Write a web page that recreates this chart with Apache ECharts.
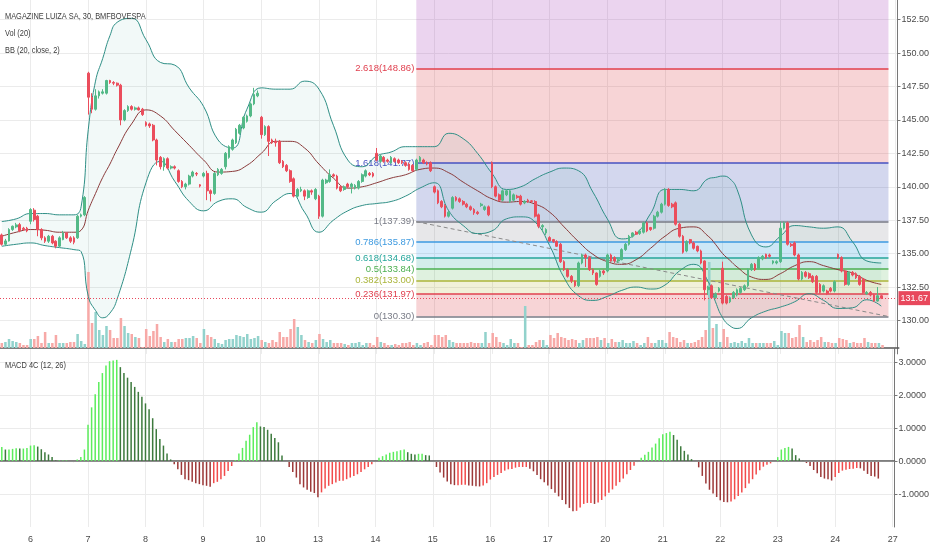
<!DOCTYPE html>
<html>
<head>
<meta charset="utf-8">
<title>MAGAZINE LUIZA SA, 30, BMFBOVESPA</title>
<script src="https://cdn.jsdelivr.net/npm/echarts@6.0.0/dist/echarts.min.js"></script>
<style>html,body{margin:0;padding:0;background:#fff;}</style>
</head>
<body>
<div id="main" style="width:932px;height:550px;"></div>
<script type="text/javascript">
// day labels of the time axis, 16 half-hour bars per session
var dayLabels = ['3', '6', '7', '8', '9', '10', '13', '14', '15', '16', '17', '20', '21', '22', '23', '24', '27'];
var barsPerDay = 16;
var firstDaySkip = 8;   // bars of the first session left of the chart edge
var lastDaySlots = 1;

// [open, close, low, high] per bar
var ohlc = [
    // 3
    [136.4,135.7,135.6,136.5],[135.7,135.95,135.6,136.1],[135.95,136.8,135.9,136.9],[136.8,137.05,136.7,137.1],[137.0,137.15,136.9,137.3],[137.17,136.7,136.6,137.3],[136.9,136.8,136.7,137.0],[136.9,136.7,136.6,137.0],
    // 6
    [137.42,138.3,137.2,138.4],[138.25,137.55,137.4,138.4],[137.8,136.8,136.3,137.9],[136.8,136.18,136.0,136.9],[136.18,135.93,135.8,136.3],[135.93,136.3,135.8,136.4],[136.3,135.8,135.7,136.4],[135.93,135.56,135.4,136.0],
    [135.56,136.18,135.5,136.3],[136.05,136.55,136.0,136.7],[136.55,136.18,136.1,136.6],[136.18,135.93,135.8,136.3],[136.18,135.85,135.7,136.3],[136.18,137.8,136.1,137.9],[137.8,137.9,137.7,138.0],[137.9,139.2,137.8,139.3],
    // 7
    [148.5,146.7,145.4,148.6],[146.7,145.8,145.5,147.0],[145.8,146.8,145.7,147.3],[146.8,147.1,146.6,147.2],[147.0,147.1,146.9,147.3],[147.0,147.95,146.9,148.0],[147.95,147.8,147.7,148.0],[147.8,147.75,147.6,147.9],
    [147.75,147.6,147.5,147.8],[147.6,145.0,144.6,147.7],[145.0,145.7,144.9,145.8],[145.7,146.0,145.6,146.1],[146.0,145.8,145.7,146.1],[145.8,145.9,145.7,146.0],[145.9,145.75,145.7,146.0],[145.8,145.4,145.3,145.9],
    // 8
    [144.8,144.6,144.5,144.9],[144.7,144.55,144.4,144.8],[144.6,143.5,143.4,144.7],[143.5,142.0,141.6,143.6],[142.2,141.5,141.3,142.3],[141.5,142.1,141.2,142.2],[142.1,141.4,141.3,142.2],[141.4,141.5,141.3,141.6],
    [141.5,141.4,141.3,141.6],[141.2,140.4,140.3,141.3],[140.4,140.0,139.9,140.5],[140.0,140.2,139.8,140.3],[140.2,140.8,140.1,140.9],[140.8,141.1,140.7,141.2],[141.0,140.95,140.8,141.1],[140.15,140.05,139.95,140.2],
    // 9
    [140.8,141.0,140.7,141.1],[141.0,139.7,139.0,141.2],[139.7,139.5,138.9,139.8],[139.5,141.0,139.4,141.1],[140.9,141.3,140.8,141.4],[141.0,141.3,140.9,141.4],[141.5,142.5,141.3,142.6],[142.2,143.0,142.1,143.1],
    [142.8,143.5,142.7,143.6],[143.3,144.3,143.2,144.4],[144.0,144.6,143.9,144.7],[144.4,145.2,144.3,145.3],[144.9,145.3,144.8,145.4],[145.3,146.2,145.2,146.3],[146.2,146.9,146.1,147.4],[146.8,147.0,146.7,147.2],
    // 10
    [145.2,143.9,143.6,145.3],[143.9,144.5,143.8,144.6],[144.5,143.4,142.3,144.6],[143.5,143.3,143.2,143.6],[143.4,143.3,143.0,143.6],[143.4,141.8,141.7,143.5],[141.9,141.5,141.4,142.0],[141.6,141.2,141.1,141.7],
    [141.2,140.4,140.3,141.3],[140.6,139.3,139.2,140.7],[139.3,139.8,139.2,139.9],[139.7,139.8,139.6,140.0],[139.7,139.3,139.0,139.8],[139.2,139.7,139.1,139.8],[139.7,139.6,139.4,139.8],[139.1,139.8,139.0,139.9],
    // 13
    [139.3,137.8,137.6,139.4],[137.8,140.5,137.7,140.6],[140.3,140.5,140.2,140.6],[140.4,140.9,140.3,141.3],[140.9,140.8,140.7,141.0],[140.8,139.9,139.8,140.9],[140.0,139.7,139.6,140.1],[139.8,140.0,139.7,140.1],
    [140.2,140.0,139.9,140.3],[140.0,140.2,139.5,140.3],[139.9,140.1,139.8,140.2],[139.9,140.4,139.8,140.5],[140.4,140.9,140.3,141.0],[140.8,141.2,140.7,141.3],[141.0,140.9,140.8,141.1],[141.0,140.8,140.7,141.1],
    // 14
    [142.5,142.0,141.9,142.9],[141.9,142.3,141.8,142.4],[142.2,141.9,141.8,142.3],[142.0,141.9,141.8,142.1],[141.8,142.2,141.7,142.3],[142.1,141.9,141.8,142.2],[142.0,141.8,141.7,142.1],[141.9,141.8,141.7,142.0],
    [141.8,141.6,141.5,141.9],[141.7,141.3,141.2,141.8],[141.6,141.2,141.1,141.7],[141.3,142.0,141.2,142.1],[141.9,142.2,141.8,142.3],[142.0,141.8,141.7,142.1],[141.8,141.7,141.6,141.9],[141.8,141.2,141.1,141.9],
    // 15
    [140.0,139.6,139.5,140.1],[139.7,138.8,138.7,139.8],[138.9,138.5,138.4,139.0],[138.6,137.8,137.7,138.7],[137.8,138.1,137.7,138.2],[138.4,139.2,138.3,139.3],[139.2,139.0,138.9,139.3],[139.1,138.9,138.8,139.2],
    [138.9,138.7,138.6,139.0],[138.7,138.5,138.4,138.8],[138.5,138.3,138.2,138.6],[138.3,138.05,137.9,138.4],[138.1,138.0,137.9,138.2],[138.6,138.7,138.5,138.8],[138.3,138.5,138.2,138.6],[138.5,137.9,137.8,138.6],
    // 16
    [141.8,140.0,139.9,141.9],[140.0,139.3,139.2,140.1],[139.4,139.0,138.9,139.5],[139.0,139.7,138.9,139.8],[139.4,139.7,139.3,139.8],[138.9,139.7,138.8,139.8],[139.0,139.4,138.9,139.5],[139.3,139.2,139.1,139.4],
    [139.3,138.7,138.6,139.4],[138.8,138.9,138.7,139.0],[139.0,138.9,138.8,139.1],[138.95,138.9,138.8,139.0],[138.9,137.8,137.7,139.0],[137.9,137.05,136.9,138.0],[137.0,137.1,136.6,137.2],[136.55,136.8,136.4,136.9],
    // 17
    [136.2,135.95,135.9,136.3],[136.05,135.9,135.8,136.1],[135.9,135.55,135.5,136.0],[135.7,134.4,134.3,135.8],[134.4,133.8,133.7,134.5],[133.8,133.3,133.2,133.9],[133.3,132.95,132.8,133.4],[132.95,132.6,132.5,133.0],
    [132.6,134.3,132.5,134.4],[134.3,134.9,134.2,135.0],[134.9,134.7,134.0,135.0],[134.7,133.8,133.7,134.8],[133.8,133.55,133.4,133.9],[133.55,132.7,132.6,133.6],[133.3,133.7,133.2,133.8],[133.7,133.55,133.4,133.8],
    // 20
    [133.7,134.9,133.6,135.0],[134.9,134.45,134.4,135.0],[134.7,134.45,134.3,134.8],[134.45,134.55,134.3,134.7],[134.55,135.3,134.5,135.4],[135.3,135.7,135.2,135.8],[135.7,136.3,135.6,136.4],[136.3,136.55,136.2,136.6],
    [136.6,136.45,136.4,136.7],[136.5,136.7,136.4,136.8],[136.6,137.3,136.5,137.4],[137.3,136.7,136.6,137.4],[136.95,136.8,136.7,137.0],[136.9,137.8,136.8,137.9],[137.8,138.1,137.7,138.2],[138.1,138.7,138.0,138.8],
    // 21
    [138.7,139.8,138.6,139.9],[139.8,138.6,138.5,139.9],[138.7,138.5,138.4,138.8],[138.8,137.2,137.1,138.9],[137.2,136.3,136.2,137.3],[136.3,135.1,135.0,136.4],[135.2,135.9,135.1,136.0],[136.05,135.8,135.7,136.1],
    [135.8,135.4,135.3,135.9],[135.55,135.2,135.1,135.6],[135.2,134.3,134.2,135.3],[134.45,132.3,131.5,134.5],[132.3,132.5,131.9,132.6],[132.6,131.7,131.6,132.7],[131.7,132.0,131.6,132.1],[132.2,132.4,132.1,132.5],
    // 22
    [133.9,131.3,131.2,134.4],[131.8,131.3,131.2,131.9],[131.4,131.7,131.3,131.8],[131.7,132.1,131.6,132.2],[131.9,132.3,131.8,132.4],[132.1,132.4,132.0,132.5],[132.3,132.6,132.2,132.7],[132.6,133.8,132.5,133.9],
    [133.8,134.2,133.7,134.3],[134.2,133.8,133.7,134.3],[133.9,134.7,133.8,134.8],[134.6,134.8,134.5,134.9],[134.95,134.7,134.6,135.0],[134.9,134.8,134.7,135.0],[134.3,134.45,134.2,134.5],[134.3,134.4,134.2,134.5],
    // 23
    [134.4,136.9,134.3,137.4],[136.9,137.3,136.8,137.4],[137.3,135.7,135.6,137.4],[135.7,135.6,135.5,135.8],[135.8,134.9,134.8,135.9],[134.9,133.1,133.0,135.0],[133.1,133.6,133.0,133.7],[133.6,133.3,133.2,133.7],
    [133.5,133.2,133.1,133.6],[133.3,132.9,132.8,133.4],[133.3,132.1,132.0,133.4],[132.7,132.1,132.0,132.8],[132.2,132.6,132.1,132.7],[132.2,132.0,131.9,132.3],[132.4,132.2,132.1,132.5],[132.2,132.9,132.1,133.0],
    // 24
    [134.95,134.7,134.6,135.0],[134.7,133.7,133.6,134.8],[133.7,132.7,132.6,133.8],[132.7,133.6,132.6,133.7],[133.6,133.4,133.3,133.7],[133.5,133.2,133.1,133.6],[133.3,132.7,132.6,133.4],[133.1,132.1,132.0,133.2],
    [132.0,132.1,131.9,132.2],[132.1,131.9,131.8,132.2],[131.9,131.45,131.4,132.0],[131.45,131.85,131.4,132.5],[131.85,131.67,131.6,131.9]
];

// volume per bar (thousand shares)
var volume = [
    5,6,9,7,6,5,3,3,
    9,9,12,5,16,5,5,13,5,5,5,6,6,14,7,4,
    76,25,36,18,13,22,18,10,10,30,22,15,14,11,10,1,
    19,12,17,24,11,6,9,6,6,9,9,10,10,12,10,5,
    19,13,11,9,5,4,8,9,9,13,12,11,14,9,10,12,
    8,6,5,8,6,16,11,11,19,29,21,13,8,6,5,8,
    14,9,6,8,5,5,5,4,3,5,5,6,3,5,5,3,
    11,6,5,3,3,4,3,5,5,6,3,5,3,5,6,3,
    13,13,11,13,8,6,5,5,5,5,6,5,5,5,16,5,
    15,11,6,5,3,9,5,5,1,42,3,3,6,8,8,3,
    13,10,15,11,10,8,9,8,5,8,10,10,10,11,8,10,
    5,9,6,6,8,5,5,7,5,3,5,11,5,5,8,8,
    5,16,11,10,6,8,5,5,6,8,11,18,86,20,24,6,
    19,11,5,6,5,7,5,10,5,5,5,5,5,5,7,3,
    17,15,15,10,11,23,11,6,8,6,8,11,6,6,5,5,
    10,9,8,5,6,5,5,10,6,5,5,5,3
];

// MACD 4C (12, 26) histogram per bar
var macdHist = [
    0.43,0.35,0.35,0.37,0.39,0.38,0.38,0.40,
    0.47,0.48,0.44,0.36,0.27,0.20,0.12,0.02,0.02,0.02,0.02,-0.02,-0.03,0.05,0.12,0.35,
    1.10,1.63,2.03,2.40,2.67,2.90,3.03,3.05,3.07,2.85,2.67,2.53,2.40,2.25,2.10,1.95,
    1.75,1.57,1.30,0.97,0.67,0.47,0.23,0.05,-0.10,-0.25,-0.42,-0.55,-0.58,-0.63,-0.67,-0.70,
    -0.73,-0.75,-0.78,-0.67,-0.63,-0.55,-0.45,-0.30,-0.15,0.03,0.23,0.40,0.62,0.80,1.03,1.18,
    1.05,1.03,0.95,0.83,0.70,0.57,0.17,-0.02,-0.18,-0.33,-0.50,-0.70,-0.80,-0.87,-0.93,-0.97,
    -1.10,-0.95,-0.83,-0.75,-0.70,-0.65,-0.60,-0.60,-0.55,-0.50,-0.45,-0.40,-0.33,-0.25,-0.18,-0.10,
    -0.03,0.10,0.15,0.20,0.25,0.28,0.30,0.33,0.35,0.27,0.22,0.20,0.22,0.22,0.18,0.17,
    -0.02,-0.18,-0.35,-0.50,-0.62,-0.70,-0.73,-0.73,-0.72,-0.72,-0.74,-0.75,-0.76,-0.77,-0.74,-0.67,
    -0.56,-0.48,-0.42,-0.36,-0.29,-0.25,-0.24,-0.20,-0.18,-0.18,-0.18,-0.23,-0.31,-0.42,-0.55,-0.64,
    -0.74,-0.85,-0.96,-1.07,-1.18,-1.31,-1.42,-1.52,-1.51,-1.41,-1.30,-1.27,-1.27,-1.30,-1.26,-1.18,
    -1.07,-0.96,-0.86,-0.75,-0.64,-0.53,-0.40,-0.27,-0.14,-0.03,0.10,0.19,0.28,0.41,0.53,0.69,
    0.81,0.85,0.89,0.79,0.65,0.45,0.31,0.20,0.06,-0.03,-0.19,-0.45,-0.68,-0.87,-0.98,-1.09,
    -1.19,-1.24,-1.25,-1.23,-1.16,-1.06,-0.95,-0.82,-0.68,-0.55,-0.41,-0.28,-0.17,-0.11,-0.07,-0.03,
    0.12,0.35,0.40,0.43,0.38,0.18,0.08,0.01,-0.06,-0.15,-0.27,-0.37,-0.48,-0.53,-0.55,-0.59,
    -0.48,-0.36,-0.29,-0.26,-0.24,-0.23,-0.21,-0.22,-0.29,-0.39,-0.45,-0.47,-0.53
];

// Bollinger Bands (20, close, 2) read at these bars
var bbBars = [0,4,8,12,16,20,22,24,26,28,30,32,36,40,44,48,52,56,60,64,68,72,76,80,84,88,92,96,100,104,108,112,
    116,120,124,128,132,136,140,144,148,152,156,160,164,168,172,176,180,184,188,192,196,198,200,202,204,
    208,212,216,220,224,228,232,236,240,244];
var bbUpper = [137.4,137.6,138.0,138.0,137.9,137.9,138.5,144.3,147.9,149.6,151.3,152.3,152.6,151.0,149.3,149.1,147.4,146.0,143.5,142.9,
    145.8,147.4,147.3,147.3,147.9,147.3,144.6,142.0,141.5,142.3,142.6,143.0,143.0,143.0,144.0,143.6,142.5,141.0,139.8,140.0,
    140.6,141.1,141.4,141.2,139.6,137.6,136.1,136.5,138.0,139.8,139.8,139.7,140.6,140.7,140.8,140.6,139.8,136.4,135.5,136.3,
    137.1,137.0,136.9,137.0,135.9,134.45,134.3];
var bbMid = [136.3,136.6,136.8,136.75,136.6,136.6,136.75,138.25,139.5,140.7,141.7,142.8,144.7,145.75,145.3,144.2,143.1,142.0,141.1,141.15,
    141.6,142.5,143.4,143.4,142.9,141.7,140.65,139.9,140.0,140.3,140.65,140.9,141.3,141.4,141.05,140.35,139.7,139.1,138.85,138.9,
    138.7,138.1,137.0,135.9,134.95,134.4,134.2,134.55,135.4,136.3,136.9,137.0,136.3,135.7,135.0,134.5,134.0,133.25,133.07,133.5,
    134.1,134.4,134.1,133.8,133.55,133.0,132.7];
var bbLower = [135.55,135.7,135.8,135.6,135.45,135.3,135.15,131.8,130.75,130.2,130.55,131.6,135.4,140.3,141.9,140.4,138.9,138.2,138.9,139.1,
    138.45,138.1,138.95,139.5,138.1,136.6,137.5,138.2,138.6,138.75,138.9,139.3,139.9,140.3,138.2,137.1,136.5,136.7,137.6,137.75,
    137.35,135.6,133.2,131.85,131.5,131.8,132.25,132.5,132.35,132.65,133.7,134.2,132.9,131.4,130.2,129.6,129.4,130.2,130.7,131.0,
    131.4,132.0,131.5,130.9,130.95,131.55,131.07];

// Fibonacci retracement
var fibLevels = [0, 0.236, 0.382, 0.5, 0.618, 0.786, 1, 1.618, 2.618];
var fibPrices = [130.30, 131.97, 133.00, 133.84, 134.68, 135.87, 137.39, 141.77, 148.86];
var fibStartBar = 115;
var fibEndBar = 246;

var FONT = '"Liberation Sans Narrow", "Liberation Sans", Arial, sans-serif';
var UP = '#53b987', DOWN = '#eb4d5c';
var VOL_UP = '#92d2cc', VOL_DOWN = '#f7a9a7';
var MACD_LIME = '#5ced5c', MACD_GREEN = '#3d7a3d', MACD_RED = '#f24b4b', MACD_MAROON = '#9c3838';
var fibLineColors = ['#787b86', '#e0404f', '#aab53a', '#4caf50', '#26a69a', '#3d9ae0', '#787b86', '#4652c0', '#e0404f'];
var fibZoneColors = ['rgba(220,60,70,0.22)', 'rgba(175,180,43,0.18)', 'rgba(76,175,80,0.18)', 'rgba(0,150,136,0.17)',
    'rgba(33,150,243,0.18)', 'rgba(120,123,134,0.18)', 'rgba(63,81,181,0.23)', 'rgba(220,60,70,0.22)', 'rgba(156,39,176,0.2)'];
var priceMin = 127.5, priceMax = 153.97;

var categories = [];
dayLabels.forEach(function (d, di) {
    var from = di === 0 ? firstDaySkip : 0;
    var to = di === dayLabels.length - 1 ? lastDaySlots : barsPerDay;
    for (var k = from; k < to; k++) categories.push(d + '|' + k);
});
function isDayStart(index, value) { return String(value).split('|')[1] === '0'; }

var lastClose = ohlc[ohlc.length - 1][1];

// each zone sits under the level above it; the last one runs to the top of the pane
var zones = fibPrices.slice(1).map(function (p, i) {
    return [{ coord: [fibStartBar, fibPrices[i]], itemStyle: { color: fibZoneColors[i] } }, { coord: [fibEndBar, p] }];
});
zones.push([{ coord: [fibStartBar, fibPrices[fibPrices.length - 1]], itemStyle: { color: fibZoneColors[fibZoneColors.length - 1] } },
    { coord: [fibEndBar, priceMax] }]);

var fibLines = fibPrices.map(function (p, i) {
    return [{
        coord: [fibStartBar, p],
        lineStyle: { color: fibLineColors[i], width: 1.5, type: 'solid' },
        label: { show: true, position: 'start', distance: 2, formatter: fibLevels[i] + '(' + p.toFixed(2) + ')',
            color: fibLineColors[i], fontSize: 9.5, fontFamily: FONT }
    }, { coord: [fibEndBar, p] }];
});
// trend line of the retracement, from 1 down to 0
fibLines.push([{
    coord: [fibStartBar, fibPrices[6]],
    lineStyle: { color: '#8a8a8a', width: 1, type: [4, 3] },
    label: { show: false }
}, { coord: [fibEndBar, fibPrices[0]] }]);

var macdColors = macdHist.map(function (v, i) {
    var prev = i > 0 ? macdHist[i - 1] : v;
    if (v >= 0) return v >= prev ? MACD_LIME : MACD_GREEN;
    return v < prev ? MACD_MAROON : MACD_RED;
});

function paneTitle(text, top) {
    return { type: 'text', left: 5, top: top, z: 100, scaleX: 0.78,
        style: { text: text, fill: '#3c3c3c', fontSize: 9.5, fontFamily: FONT } };
}

var myChart = echarts.init(document.getElementById('main'));
var gridX = { left: -1.43, width: 900.2 };

var option = {
    animation: false,
    backgroundColor: '#ffffff',
    textStyle: { fontFamily: FONT },
    grid: [
        { left: gridX.left, width: gridX.width, top: 0, height: 353.9 },
        { left: gridX.left, width: gridX.width, top: 258, height: 90 },
        { left: gridX.left, width: gridX.width, top: 349, height: 178 }
    ],
    xAxis: [
        { type: 'category', gridIndex: 0, data: categories, boundaryGap: true,
          axisLine: { show: false }, axisTick: { show: false }, axisLabel: { show: false },
          splitLine: { show: true, interval: isDayStart, alignWithLabel: true, lineStyle: { color: '#ebebeb' } } },
        { type: 'category', gridIndex: 1, data: categories, boundaryGap: true,
          axisLine: { show: true, lineStyle: { color: '#555', width: 1.5 } }, axisTick: { show: false },
          axisLabel: { show: false }, splitLine: { show: false } },
        { type: 'category', gridIndex: 2, data: categories, boundaryGap: true,
          axisLine: { show: true, lineStyle: { color: '#555', width: 1.5 } }, axisTick: { show: false },
          axisLabel: { interval: isDayStart, formatter: function (v) { return v.split('|')[0]; },
              color: '#4a4a4a', fontSize: 9, fontFamily: FONT, margin: 8 },
          splitLine: { show: true, interval: isDayStart, alignWithLabel: true, lineStyle: { color: '#ebebeb' } } }
    ],
    yAxis: [
        { type: 'value', gridIndex: 0, position: 'right', min: priceMin, max: priceMax, interval: 2.5, scale: true,
          axisLine: { show: true, lineStyle: { color: '#777' } },
          axisTick: { show: true, length: 3, lineStyle: { color: '#777' } },
          axisLabel: { color: '#4a4a4a', fontSize: 9, fontFamily: FONT, margin: 4, showMinLabel: false, showMaxLabel: false,
              formatter: function (v) { return v.toFixed(2); } },
          splitLine: { show: true, showMinLine: false, showMaxLine: false, lineStyle: { color: '#ebebeb' } } },
        { type: 'value', gridIndex: 1, min: 0, max: 90, show: false, splitLine: { show: false } },
        { type: 'value', gridIndex: 2, position: 'right', min: -2, max: 3.4, interval: 1,
          axisLine: { show: true, lineStyle: { color: '#777' } },
          axisTick: { show: true, length: 3, lineStyle: { color: '#777' } },
          axisLabel: { color: '#4a4a4a', fontSize: 9, fontFamily: FONT, margin: 4, showMinLabel: false, showMaxLabel: false,
              formatter: function (v) { return v.toFixed(4); } },
          splitLine: { show: true, showMinLine: false, showMaxLine: false, lineStyle: { color: '#ebebeb' } } }
    ],
    graphic: [
        paneTitle('MAGAZINE LUIZA SA, 30, BMFBOVESPA', 11),
        paneTitle('Vol (20)', 28),
        paneTitle('BB (20, close, 2)', 45),
        paneTitle('MACD 4C (12, 26)', 360)
    ],
    series: [
        { name: 'bbBase', type: 'line', xAxisIndex: 0, yAxisIndex: 0, stack: 'bb', smooth: true, symbol: 'none', silent: true, z: 2,
          data: bbBars.map(function (b, i) { return [b, bbLower[i]]; }),
          lineStyle: { opacity: 0 },
          markArea: { silent: true, data: zones },
          markLine: { silent: true, symbol: ['none', 'none'], z: 3, data: fibLines } },
        { name: 'bbFill', type: 'line', xAxisIndex: 0, yAxisIndex: 0, stack: 'bb', smooth: true, symbol: 'none', silent: true, z: 2,
          data: bbBars.map(function (b, i) { return [b, +(bbUpper[i] - bbLower[i]).toFixed(2)]; }),
          lineStyle: { opacity: 0 }, areaStyle: { color: 'rgba(25,140,130,0.08)' } },
        { name: 'BB upper', type: 'line', xAxisIndex: 0, yAxisIndex: 0, smooth: true, symbol: 'none', silent: true, z: 3,
          data: bbBars.map(function (b, i) { return [b, bbUpper[i]]; }), lineStyle: { color: '#2f8f86', width: 1 } },
        { name: 'BB lower', type: 'line', xAxisIndex: 0, yAxisIndex: 0, smooth: true, symbol: 'none', silent: true, z: 3,
          data: bbBars.map(function (b, i) { return [b, bbLower[i]]; }), lineStyle: { color: '#2f8f86', width: 1 } },
        { name: 'BB basis', type: 'line', xAxisIndex: 0, yAxisIndex: 0, smooth: true, symbol: 'none', silent: true, z: 3,
          data: bbBars.map(function (b, i) { return [b, bbMid[i]]; }), lineStyle: { color: '#8a3a3a', width: 1 } },
        { name: 'MGLU3', type: 'candlestick', xAxisIndex: 0, yAxisIndex: 0, z: 4, barWidth: '62%',
          data: ohlc,
          itemStyle: { color: UP, color0: DOWN, borderColor: UP, borderColor0: DOWN, borderWidth: 1 },
          markLine: { silent: true, symbol: ['none', 'none'], z: 6,
              data: [{ yAxis: lastClose,
                  lineStyle: { type: [1, 2], color: '#e8485c', width: 1 },
                  label: { show: true, position: 'end', distance: 1, formatter: lastClose.toFixed(2),
                      backgroundColor: '#e8485c', color: '#fff', padding: [3, 2, 2, 2], fontSize: 9, fontFamily: FONT } }] } },
        { name: 'Vol', type: 'bar', xAxisIndex: 1, yAxisIndex: 1, barWidth: '70%', z: 3, silent: true,
          data: volume.map(function (v, i) {
              return { value: v, itemStyle: { color: ohlc[i][1] >= ohlc[i][0] ? VOL_UP : VOL_DOWN } };
          }) },
        { name: 'MACD', type: 'bar', xAxisIndex: 2, yAxisIndex: 2, barWidth: '42%', silent: true,
          data: macdHist.map(function (v, i) { return { value: v, itemStyle: { color: macdColors[i] } }; }),
          markLine: { silent: true, symbol: ['none', 'none'], label: { show: false },
              lineStyle: { color: '#8d8d8d', type: 'solid', width: 1 }, data: [{ yAxis: 0 }] } }
    ]
};

myChart.setOption(option);
</script>
</body>
</html>
